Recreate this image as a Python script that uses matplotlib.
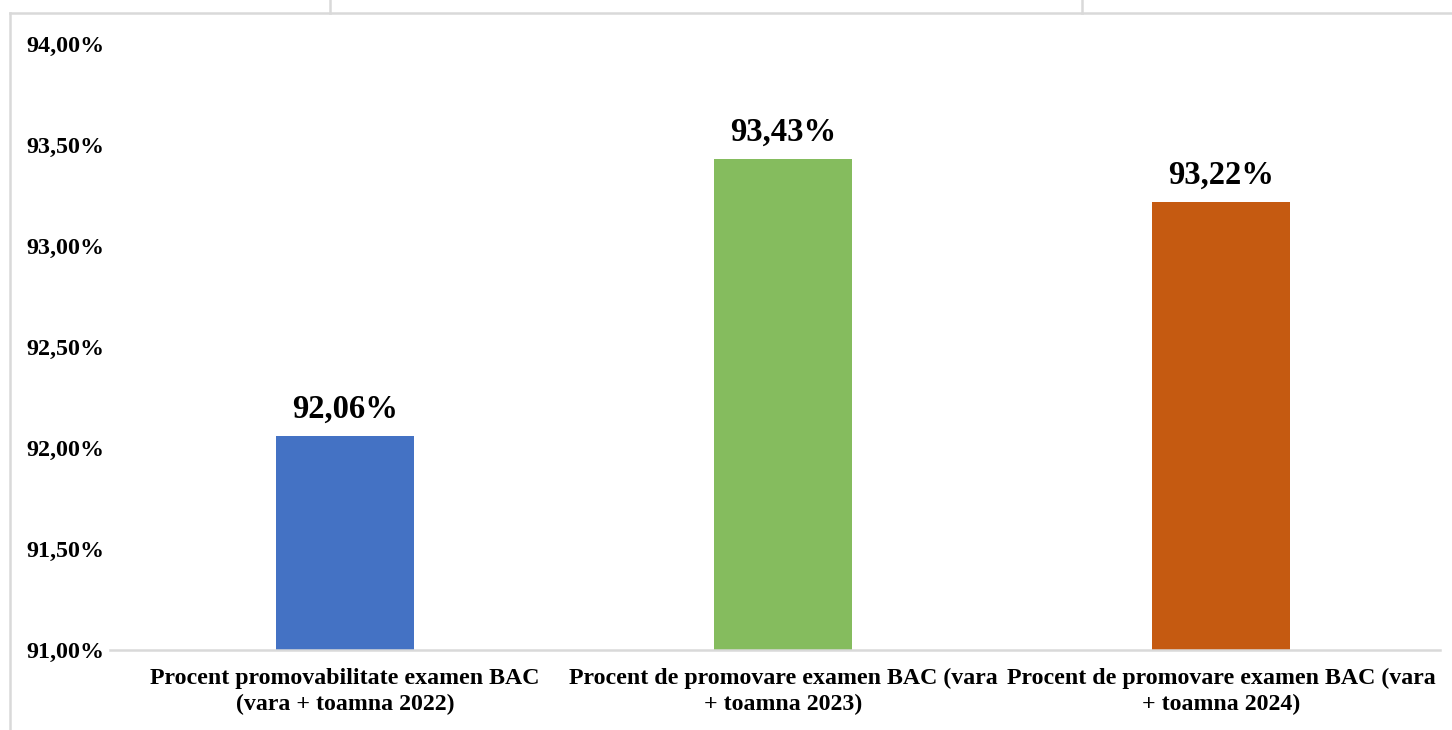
# -*- coding: utf8 -*-
import numpy as np
import matplotlib
matplotlib.use("Agg")
import matplotlib.pyplot as plt
from matplotlib.lines import Line2D

# Date
categorii = ["Procent promovabilitate examen BAC\n(vara + toamna 2022)",
             "Procent de promovare examen BAC (vara\n+ toamna 2023)",
             "Procent de promovare examen BAC (vara\n+ toamna 2024)"]
valori = [92.06, 93.43, 93.22]
culori = ["#4472C4", "#85BC5E", "#C55A11"]
ticks_y = [91.0, 91.5, 92.0, 92.5, 93.0, 93.5, 94.0]

def fmt(v):
    return ("%.2f" % v).replace(".", ",") + "%"

plt.rcParams['font.family'] = ['Liberation Serif', 'DejaVu Serif']
plt.rcParams['font.weight'] = 'bold'

fig = plt.figure(figsize=(14.52, 7.3), dpi=100)
ax = fig.add_axes([110/1452, 1 - 650/730, (1440-110)/1452, (650-44)/730])

x = np.arange(len(valori))
ax.bar(x, valori, width=0.315, color=culori, bottom=0)
ax.set_ylim(91, 94)
ax.set_xlim(-0.537, 2.5)

for xi, v in zip(x, valori):
    ax.annotate(fmt(v), (xi, v), xytext=(0, 13), textcoords="offset points",
                ha="center", va="baseline", fontsize=23.5, fontweight="bold")

ax.set_yticks(ticks_y)
ax.set_yticklabels([fmt(t) for t in ticks_y], fontsize=17.3, fontweight="bold")
ax.set_xticks(x)
ax.set_xticklabels(categorii, fontsize=17.2, fontweight="bold", linespacing=1.3)
ax.tick_params(axis="both", length=0)
ax.tick_params(axis="y", pad=4)
ax.tick_params(axis="x", pad=13)

for s in ["top", "right", "left"]:
    ax.spines[s].set_visible(False)
ax.spines["bottom"].set_color("#D9D9D9")
ax.spines["bottom"].set_linewidth(1.8)

# chenar (linii gri de tabel)
gri = "#D9D9D9"
fig.add_artist(Line2D([10/1452, 1], [1 - 13/730, 1 - 13/730], color=gri, lw=1.8))
fig.add_artist(Line2D([10/1452, 10/1452], [0, 1 - 13/730], color=gri, lw=1.8))
fig.add_artist(Line2D([330/1452, 330/1452], [1 - 13/730, 1], color=gri, lw=1.8))
fig.add_artist(Line2D([1082/1452, 1082/1452], [1 - 13/730, 1], color=gri, lw=1.8))

plt.savefig("out.png", dpi=100)
